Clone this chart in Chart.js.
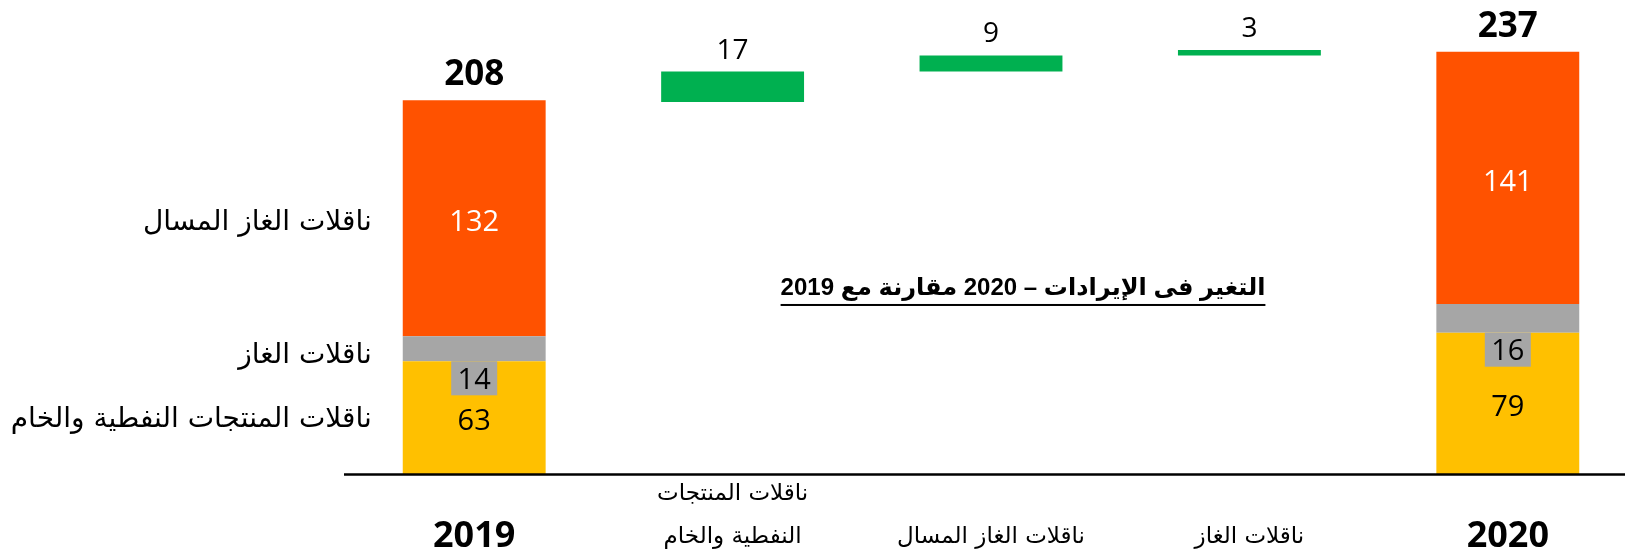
<!DOCTYPE html>
<html>
<head>
<meta charset="utf-8">
<script src="https://cdn.jsdelivr.net/npm/chart.js@4.4.0/dist/chart.umd.min.js"></script>
<style>
  html, body { margin: 0; padding: 0; background: #fff; overflow: hidden; }
  /* a bit wider than the window: the last category runs past the right edge */
  #wrap { width: 1637px; height: 553px; }
</style>
</head>
<body>
<div id="wrap"><canvas id="chart"></canvas></div>
<script>
// Revenue bridge 2019 -> 2020 by segment
const categories = ['2019', ['ناقلات المنتجات', 'النفطية والخام'], 'ناقلات الغاز المسال', 'ناقلات الغاز', '2020'];
const segmentNames = ['ناقلات المنتجات النفطية والخام', 'ناقلات الغاز', 'ناقلات الغاز المسال'];
const crudeValues = [63, null, null, null, 79];
const gasValues = [14, null, null, null, 16];
const lngValues = [132, null, null, null, 141];
const changeValues = [null, 17, 9, 3, null];
const totals = [208, null, null, null, 237];
const titleText = 'التغير فى الإيرادات – 2020 مقارنة مع 2019';

const colors = {
    crude: '#FFC000',
    gas: '#A6A6A6',
    lng: '#FF5200',
    change: '#00B050'
};

// floating bars for the changes, starting from the 2019 total
let running = totals[0];
const changeBars = changeValues.map(v => {
    if (v === null) return null;
    const bar = [running, running + v];
    running += v;
    return bar;
});

const arabicFont = '"DejaVu Sans", sans-serif';
const numFont = '"Open Sans", "DejaVu Sans", sans-serif';
const arialFont = '"Liberation Sans", Arial, "DejaVu Sans", sans-serif';

const labelPlugin = {
    id: 'bridgeLabels',
    afterDatasetsDraw(chart) {
        const {ctx, chartArea, scales} = chart;
        const x = scales.x, y = scales.y;
        ctx.save();

        // axis line
        ctx.strokeStyle = '#000';
        ctx.lineWidth = 2.5;
        ctx.beginPath();
        ctx.moveTo(chartArea.left - 1, chartArea.bottom + 0.5);
        ctx.lineTo(chart.width, chartArea.bottom + 0.5);
        ctx.stroke();

        ctx.textAlign = 'center';
        ctx.textBaseline = 'middle';

        const segMetas = [0, 1, 2].map(i => chart.getDatasetMeta(i));
        const segData = [crudeValues, gasValues, lngValues];

        [0, 4].forEach(idx => {
            // crude (yellow)
            const c = segMetas[0].data[idx].getProps(['x', 'y', 'base'], true);
            ctx.font = '29px ' + numFont;
            ctx.fillStyle = '#000';
            ctx.fillText(segData[0][idx], c.x, (c.y + c.base) / 2 + 4);

            // gas (grey) - label box hangs below the thin segment
            const g = segMetas[1].data[idx].getProps(['x', 'y', 'base'], true);
            ctx.fillStyle = colors.gas;
            ctx.fillRect(g.x - 23, g.base, 46, 34);
            ctx.fillStyle = '#000';
            ctx.fillText(segData[1][idx], g.x, g.base + 19);

            // lng (orange)
            const l = segMetas[2].data[idx].getProps(['x', 'y', 'base'], true);
            ctx.fillStyle = '#fff';
            ctx.fillText(segData[2][idx], l.x, (l.y + l.base) / 2 + 5);

            // total
            ctx.font = 'bold 35px ' + numFont;
            ctx.fillStyle = '#000';
            ctx.fillText(totals[idx], l.x, l.y - 25);
        });

        // change labels
        const chMeta = chart.getDatasetMeta(3);
        ctx.font = '28px ' + numFont;
        ctx.fillStyle = '#000';
        changeValues.forEach((v, idx) => {
            if (v === null) return;
            const p = chMeta.data[idx].getProps(['x', 'y'], true);
            ctx.fillText(v, p.x, p.y - 21);
        });

        // segment names to the left of the 2019 bar
        ctx.direction = 'rtl';
        ctx.textAlign = 'right';
        ctx.font = '28px ' + arabicFont;
        const first = segMetas.map(m => m.data[0].getProps(['x', 'y', 'base', 'width'], true));
        const nameOffsets = [2, 7, 4];
        segmentNames.forEach((name, i) => {
            const e = first[i];
            ctx.fillText(name, e.x - e.width / 2 - 31, (e.y + e.base) / 2 + nameOffsets[i]);
        });

        // title
        ctx.textAlign = 'center';
        ctx.font = 'bold 24px ' + arialFont;
        const tx = x.getPixelForValue(2) + 32;
        const ty = y.getPixelForValue(104);
        ctx.fillText(titleText, tx, ty);
        const tw = ctx.measureText(titleText).width;
        ctx.fillRect(tx - tw / 2, ty + 16, tw, 2);

        // category labels
        categories.forEach((cat, idx) => {
            const cx = x.getPixelForValue(idx);
            if (idx === 0 || idx === categories.length - 1) {
                ctx.font = 'bold 36px ' + numFont;
                ctx.fillText(cat, cx, 537);
            } else if (Array.isArray(cat)) {
                ctx.font = '23px ' + arabicFont;
                ctx.fillText(cat[0], cx, 494);
                ctx.fillText(cat[1], cx, 537);
            } else {
                ctx.font = '23px ' + arabicFont;
                ctx.fillText(cat, cx, 537);
            }
        });

        ctx.restore();
    }
};

const barOpts = { barPercentage: 0.553, categoryPercentage: 1, borderWidth: 0 };

new Chart(document.getElementById('chart'), {
    type: 'bar',
    data: {
        labels: categories,
        datasets: [
            { label: segmentNames[0], data: crudeValues, backgroundColor: colors.crude, ...barOpts },
            { label: segmentNames[1], data: gasValues, backgroundColor: colors.gas, ...barOpts },
            { label: segmentNames[2], data: lngValues, backgroundColor: colors.lng, ...barOpts },
            { label: 'change', data: changeBars, backgroundColor: colors.change, ...barOpts }
        ]
    },
    options: {
        responsive: true,
        maintainAspectRatio: false,
        animation: false,
        layout: { padding: { left: 345, right: 0, top: 0, bottom: 79 } },
        scales: {
            x: { display: false, stacked: true },
            y: { display: false, stacked: true, min: 0, max: 265 }
        },
        plugins: {
            legend: { display: false },
            tooltip: { enabled: false }
        }
    },
    plugins: [labelPlugin]
});
</script>
</body>
</html>
